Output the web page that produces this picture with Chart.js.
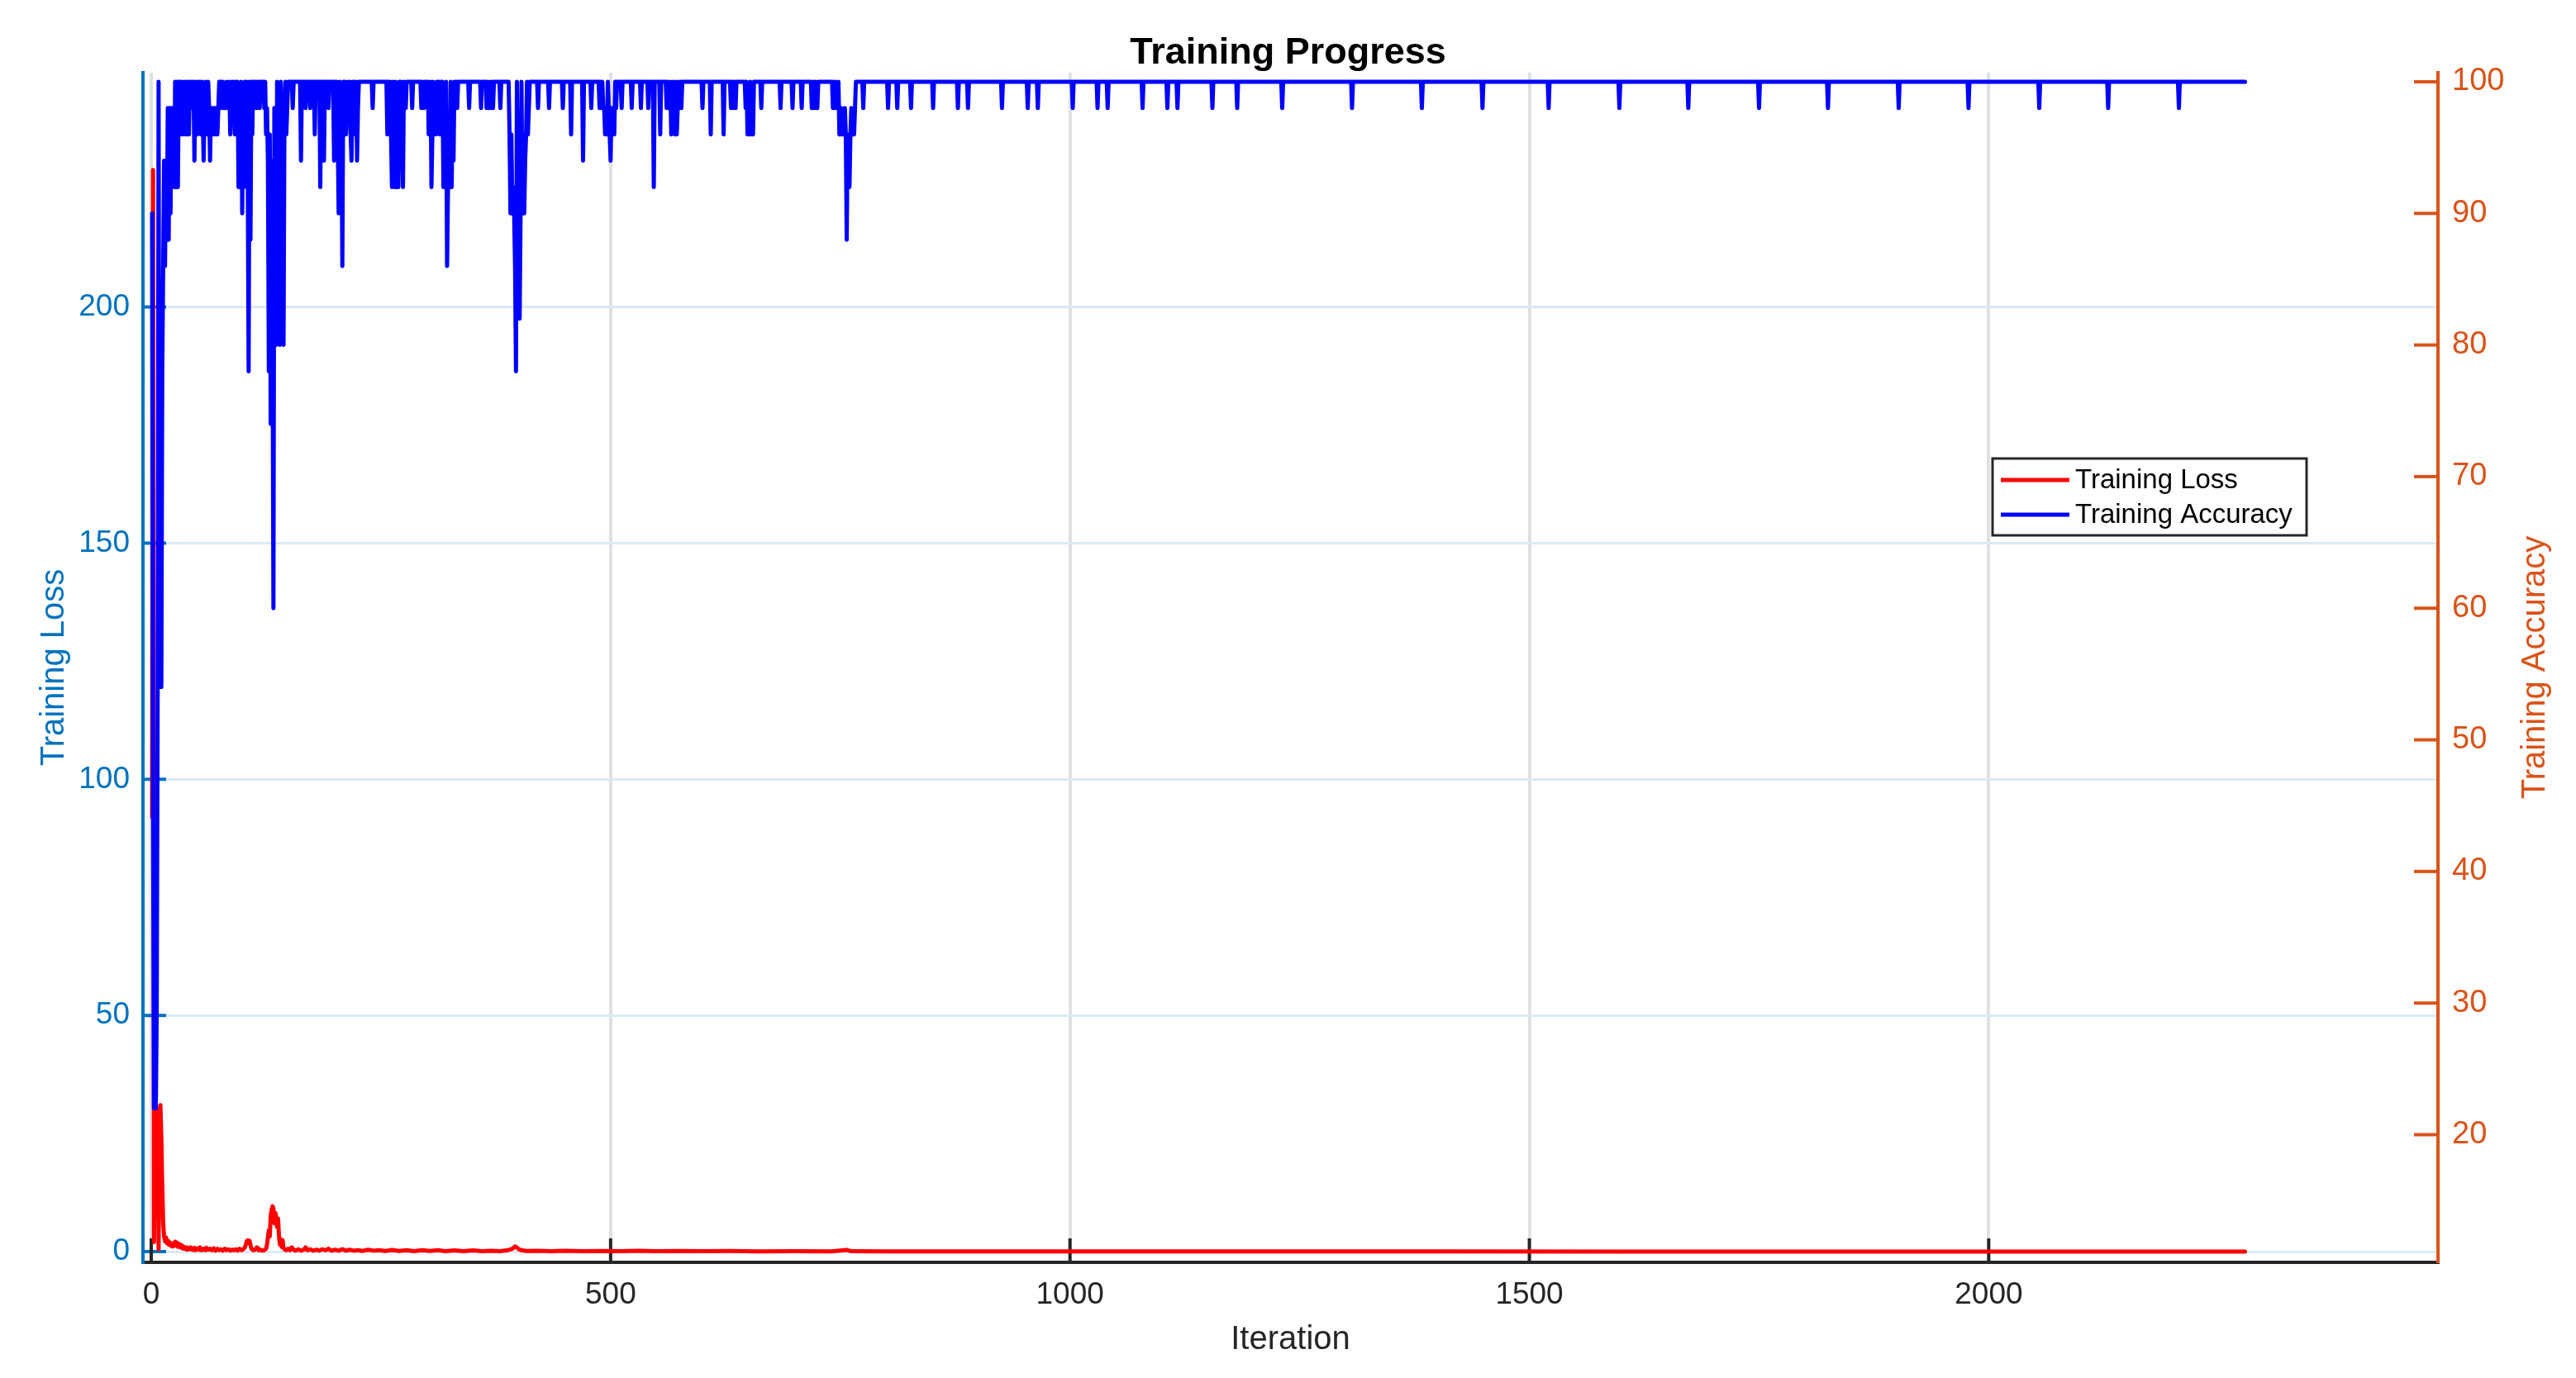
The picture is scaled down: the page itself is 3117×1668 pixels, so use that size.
<!DOCTYPE html>
<html>
<head>
<meta charset="utf-8">
<title>Training Progress</title>
<script src="https://cdn.jsdelivr.net/npm/chart.js@4.4.1/dist/chart.umd.min.js"></script>
<style>
  html, body { margin: 0; padding: 0; background: #fff; }
  #wrap { width: 3117px; height: 1668px; }
</style>
</head>
<body>
<div id="wrap"><canvas id="myChart" width="3117" height="1668"></canvas></div>
<script>
//////////////// DATA /////////////////////////////////

var seriesLabels = ["Training Loss", "Training Accuracy"];
var iterTicks = [0, 500, 1000, 1500, 2000];
var lossTicks = [0, 50, 100, 150, 200];
var accTicks = [20, 30, 40, 50, 60, 70, 80, 90, 100];

// [iteration, loss]
var lossPoints = [
  [1,92],[2,229],[3,2],[4,30],[5,22],[6,30],[7,25],[8,0.5],[9,30],[10,31],
  [11,24],[12,14],[13,6],[14,3.2],[15,2.2],[16,3.0],[17,1.8],[18,2.4],[19,1.5],[20,2.0],
  [21,1.3],[22,1.8],[23,1.1],[24,1.6],[25,1.2],[26,2.1],[27,1.4],[28,1.9],[29,1.0],[30,1.7],
  [31,1.2],[32,0.9],[33,1.4],[34,0.7],[35,1.1],[36,0.6],[38,0.9],[39,0.4],[40,0.8],[42,0.5],
  [43,0.9],[45,0.4],[47,0.8],[48,0.3],[50,0.7],[52,0.4],[53,0.9],[55,0.3],[57,0.6],[59,0.3],
  [60,0.8],[62,0.4],[64,0.6],[66,0.3],[68,0.7],[70,0.2],[72,0.6],[74,0.3],[76,0.5],[78,0.2],
  [80,0.6],[82,0.3],[84,0.5],[86,0.2],[88,0.4],[90,0.3],[92,0.5],[94,0.2],[96,0.6],[98,0.3],
  [100,0.5],[102,0.9],[104,2.2],[105,2.4],[106,1.8],[107,2.3],[108,1.4],[109,0.6],[111,0.3],[113,0.4],
  [115,0.9],[116,0.8],[117,0.3],[119,0.4],[121,0.2],[123,0.3],[125,0.6],[126,1.5],[127,3.0],[128,4.5],
  [129,3.2],[130,7.5],[131,8.8],[132,9.6],[133,9.2],[134,6.0],[135,8.2],[136,7.4],[137,5.2],[138,7.0],
  [139,3.5],[140,1.5],[141,2.6],[142,1.0],[143,2.4],[144,0.8],[145,0.5],[147,0.3],[149,0.6],[151,0.3],
  [153,0.9],[155,0.4],[157,0.2],[160,0.5],[163,0.2],[166,0.4],[168,0.9],[170,0.3],[173,0.5],[176,0.2],
  [180,0.4],[183,0.2],[186,0.5],[190,0.3],[193,0.6],[196,0.2],[200,0.4],[204,0.2],[208,0.5],[212,0.2],
  [216,0.4],[220,0.2],[225,0.3],[230,0.15],[236,0.4],[242,0.2],[248,0.3],[255,0.15],[262,0.35],[270,0.15],
  [278,0.3],[286,0.1],[295,0.3],[303,0.15],[312,0.3],[320,0.1],[330,0.25],[340,0.1],[350,0.25],[360,0.1],
  [370,0.2],[380,0.1],[388,0.3],[393,0.6],[396,1.1],[398,0.9],[400,0.5],[403,0.3],[408,0.15],[420,0.2],
  [435,0.1],[450,0.2],[470,0.1],[490,0.15],[510,0.1],[530,0.2],[550,0.08],[575,0.15],[600,0.08],[630,0.12],
  [660,0.06],[700,0.1],[740,0.06],[757,0.35],[762,0.08],[800,0.05],[900,0.04],[1000,0.05],[1200,0.03],[1400,0.03],
  [1600,0.02],[1800,0.02],[2000,0.02],[2279,0.02]
];

// [iteration, accuracy %]
var accuracyPoints = [
  [1,90],[2,44],[3,22],[4,36],[5,22],[6,30],[7,54],[8,100],[9,54],[10,62],
  [11,54],[12,78],[13,86],[14,94],[15,86],[16,94],[17,88],[18,98],[19,88],[20,98],
  [21,90],[22,98],[23,96],[24,98],[25,92],[26,100],[27,92],[28,100],[29,92],[30,100],
  [31,98],[32,100],[33,96],[34,100],[35,96],[36,98],[37,100],[38,96],[39,100],[40,98],
  [41,96],[42,100],[43,98],[44,100],[45,98],[46,100],[47,94],[48,100],[49,98],[50,96],
  [51,100],[52,98],[53,100],[54,96],[55,100],[56,98],[57,94],[58,98],[59,100],[60,96],
  [61,98],[62,100],[63,98],[64,94],[65,98],[66,96],[67,98],[68,96],[69,98],[70,96],
  [71,98],[72,96],[73,98],[74,100],[75,100],[76,100],[77,98],[78,100],[79,98],[80,98],
  [81,98],[82,100],[83,98],[84,98],[85,100],[86,96],[87,98],[88,100],[89,98],[90,100],
  [91,96],[92,100],[93,98],[94,100],[95,92],[96,98],[97,92],[98,100],[99,90],[100,98],
  [101,92],[102,100],[103,96],[104,100],[105,94],[106,78],[107,100],[108,88],[109,100],[110,96],
  [111,100],[112,100],[113,98],[114,100],[115,98],[116,100],[117,100],[118,98],[119,100],[120,100],
  [121,100],[122,100],[123,98],[124,100],[125,96],[126,98],[127,94],[128,78],[129,96],[130,74],
  [131,94],[132,82],[133,60],[134,98],[135,94],[136,80],[137,100],[138,82],[139,98],[140,80],
  [141,100],[142,94],[143,98],[144,80],[145,98],[146,100],[147,96],[148,98],[149,100],[150,100],
  [153,100],[154,98],[155,100],[162,100],[163,94],[164,100],[167,100],[168,98],[169,100],
  [172,100],[173,98],[174,100],[177,100],[178,96],[179,100],[183,100],[184,92],[185,100],
  [187,100],[188,94],[189,100],[192,100],[193,98],[194,100],
  [198,100],[199,94],[200,100],[201,98],[202,100],[203,96],[204,90],[205,100],[206,96],[207,98],
  [208,86],[209,100],[210,98],[211,100],[212,96],[213,98],[214,100],[215,98],[216,100],[217,96],
  [218,94],[219,100],[220,98],[221,100],[222,96],[223,100],[224,94],[225,98],[226,100],
  [240,100],[241,98],[242,100],
  [256,100],[257,96],[258,100],[259,98],[260,100],[261,96],[262,92],[263,100],[264,96],[265,92],
  [266,100],[267,92],[268,98],[269,92],[270,100],[271,98],[272,100],[273,96],[274,92],[275,100],
  [277,98],[278,100],[283,100],[284,98],[285,100],[293,100],[294,98],[295,100],[297,98],[298,100],
  [301,100],[302,96],[303,98],[304,100],[305,92],[306,96],[307,100],[308,96],[309,98],[310,96],[311,100],
  [313,100],[314,96],[315,100],[316,98],[317,100],[318,92],[319,96],[320,92],[321,100],[322,86],
  [323,92],[324,96],[325,92],[326,100],[327,92],[328,98],[329,94],[330,100],[331,98],[332,100],
  [333,98],[334,100],[345,100],[346,98],[347,100],[358,100],[359,98],[360,100],
  [364,100],[365,98],[366,100],[367,98],[368,98],[369,100],[370,98],[371,100],[372,98],[373,100],
  [379,100],[380,98],[381,100],
  [389,100],[390,96],[391,90],[392,96],[393,90],[394,92],[395,90],[396,86],[397,78],[398,100],
  [399,90],[400,92],[401,82],[402,90],[403,100],[404,90],[405,96],[406,90],[407,94],[408,96],
  [409,100],[410,96],[411,98],[412,100],
  [420,100],[421,98],[422,100],[432,100],[433,98],[434,100],[447,100],[448,98],[449,100],
  [456,100],[457,96],[458,100],[469,100],[470,94],[471,100],[478,100],[479,98],[480,100],
  [487,100],[488,98],[489,100],[490,98],[491,100],[492,98],[493,98],[494,96],[495,98],[496,96],
  [497,100],[498,98],[499,96],[500,94],[501,98],[502,96],[503,98],[504,96],[505,100],[506,98],[507,100],
  [511,100],[512,98],[513,100],[522,100],[523,98],[524,100],[532,100],[533,98],[534,100],
  [540,100],[541,98],[542,100],[546,100],[547,92],[548,100],[553,100],[554,96],[555,100],
  [560,100],[561,98],[562,100],[563,98],[564,98],[565,100],[566,96],[567,98],[568,100],[569,98],
  [570,96],[571,100],[572,96],[573,98],[574,100],[575,98],[576,100],[577,98],[578,100],
  [599,100],[600,98],[601,100],[608,100],[609,96],[610,100],[622,100],[623,96],[624,100],
  [630,100],[631,98],[632,100],[633,100],[634,98],[635,100],[636,98],[637,100],
  [646,100],[647,98],[648,100],[649,96],[650,98],[651,96],[652,100],[653,96],[654,98],[655,96],[656,100],
  [663,100],[664,98],[665,100],[684,100],[685,98],[686,100],[697,100],[698,98],[699,100],
  [707,100],[708,98],[709,100],
  [718,100],[719,98],[720,98],[721,100],[722,98],[723,100],[724,98],[725,98],[726,100],
  [741,100],[742,98],[743,100],[744,98],[745,100],[746,98],[747,98],[748,100],[749,96],[750,96],
  [751,98],[752,96],[753,96],[754,96],[755,98],[756,96],[757,88],[758,96],[759,94],[760,92],
  [761,96],[762,98],[763,96],[764,96],[765,96],[766,98],[767,100],
  [774,100],[775,98],[776,100],[801,100],[802,98],[803,100],[811,100],[812,98],[813,100],
  [826,100],[827,98],[828,100],[850,100],[851,98],[852,100],[877,100],[878,98],[879,100],
  [888,100],[889,98],[890,100],[925,100],[926,98],[927,100],[953,100],[954,98],[955,100],
  [964,100],[965,98],[966,100],[1002,100],[1003,98],[1004,100],[1029,100],[1030,98],[1031,100],
  [1040,100],[1041,98],[1042,100],[1078,100],[1079,98],[1080,100],[1105,100],[1106,98],[1107,100],
  [1116,100],[1117,98],[1118,100],[1154,100],[1155,98],[1156,100],[1181,100],[1182,98],[1183,100],
  [1230,100],[1231,98],[1232,100],[1306,100],[1307,98],[1308,100],[1382,100],[1383,98],[1384,100],
  [1448,100],[1449,98],[1450,100],[1520,100],[1521,98],[1522,100],[1597,100],[1598,98],[1599,100],
  [1672,100],[1673,98],[1674,100],[1749,100],[1750,98],[1751,100],[1824,100],[1825,98],[1826,100],
  [1901,100],[1902,98],[1903,100],[1977,100],[1978,98],[1979,100],[2054,100],[2055,98],[2056,100],
  [2129,100],[2130,98],[2131,100],[2206,100],[2207,98],[2208,100],[2279,100]
];

//////////////// STYLE /////////////////////////////////

var FONT = "'Liberation Sans', Arial, Helvetica, sans-serif";
var LEFT_COL = "rgb(0,114,189)";
var RIGHT_COL = "rgb(217,83,25)";
var DARK = "rgb(38,38,38)";

Chart.defaults.font.family = FONT;

function toXY(pairs) {
  return pairs.map(function (p) { return { x: p[0], y: p[1] }; });
}

function setTicks(values) {
  return function (scale) {
    scale.ticks = values.map(function (v) { return { value: v }; });
  };
}

function plainLabel(v) { return String(v); }

// matlab style: tick marks pointing inward, right label read bottom-up, legend inside the axes
var matlabBits = {
  id: "matlabBits",
  beforeDatasetsDraw: function (chart) {
    var ctx = chart.ctx, a = chart.chartArea;
    var xS = chart.scales.x, yS = chart.scales.y, y2S = chart.scales.y2;
    ctx.save();
    ctx.lineWidth = 4;
    ctx.strokeStyle = LEFT_COL;
    lossTicks.forEach(function (v) {
      var p = yS.getPixelForValue(v);
      ctx.beginPath(); ctx.moveTo(a.left, p); ctx.lineTo(a.left + 28, p); ctx.stroke();
    });
    ctx.strokeStyle = RIGHT_COL;
    accTicks.forEach(function (v) {
      var p = y2S.getPixelForValue(v);
      ctx.beginPath(); ctx.moveTo(a.right, p); ctx.lineTo(a.right - 29, p); ctx.stroke();
    });
    ctx.strokeStyle = DARK;
    iterTicks.forEach(function (v) {
      var p = xS.getPixelForValue(v);
      ctx.beginPath(); ctx.moveTo(p, a.bottom); ctx.lineTo(p, a.bottom - 29); ctx.stroke();
    });
    ctx.restore();
  },
  afterDraw: function (chart) {
    var ctx = chart.ctx, a = chart.chartArea;
    var y2S = chart.scales.y2;
    ctx.save();

    // right axis title
    ctx.translate(3068, (a.top + a.bottom) / 2);
    ctx.rotate(-Math.PI / 2);
    ctx.fillStyle = RIGHT_COL;
    ctx.font = "40px " + FONT;
    ctx.textAlign = "center";
    ctx.textBaseline = "middle";
    ctx.fillText(y2S.options.title.text, 0, 0);
    ctx.restore();

    // legend box
    var bx = 2411, by = 555, bw = 380, bh = 93;
    ctx.save();
    ctx.fillStyle = "#fff";
    ctx.fillRect(bx, by, bw, bh);
    ctx.lineWidth = 3;
    ctx.strokeStyle = DARK;
    ctx.strokeRect(bx, by, bw, bh);
    ctx.font = "33px " + FONT;
    ctx.textBaseline = "middle";
    ctx.textAlign = "left";
    chart.data.datasets.forEach(function (ds, i) {
      var ly = by + 26 + i * 42;
      ctx.strokeStyle = ds.borderColor;
      ctx.lineWidth = 5;
      ctx.beginPath(); ctx.moveTo(bx + 10, ly); ctx.lineTo(bx + 93, ly); ctx.stroke();
      ctx.fillStyle = "#000";
      ctx.fillText(ds.label, bx + 100, ly + 1);
    });
    ctx.restore();
  }
};

//////////////// CHART /////////////////////////////////

var ctx = document.getElementById("myChart").getContext("2d");
var chart = new Chart(ctx, {
  type: "line",
  data: {
    datasets: [{
      label: seriesLabels[0],
      data: toXY(lossPoints),
      yAxisID: "y",
      borderColor: "rgb(255,0,0)",
      borderWidth: 5,
      pointRadius: 0,
      tension: 0,
      borderJoinStyle: "round",
      borderCapStyle: "round",
      order: 2
    }, {
      label: seriesLabels[1],
      data: toXY(accuracyPoints),
      yAxisID: "y2",
      borderColor: "rgb(0,0,255)",
      borderWidth: 5,
      pointRadius: 0,
      tension: 0,
      borderJoinStyle: "round",
      borderCapStyle: "round",
      order: 1
    }]
  },
  options: {
    responsive: false,
    maintainAspectRatio: false,
    devicePixelRatio: 1,
    animation: false,
    parsing: false,
    normalized: true,
    layout: { padding: 0 },
    plugins: {
      legend: { display: false },
      tooltip: { enabled: false },
      title: {
        display: true,
        text: "Training Progress",
        color: "#000",
        font: { size: 45, weight: "bold", lineHeight: 1 },
        padding: { top: 42, bottom: 1 }
      }
    },
    scales: {
      x: {
        type: "linear",
        min: -9,
        max: 2489,
        afterBuildTicks: setTicks(iterTicks),
        afterFit: function (s) { s.height = 140; },
        grid: { color: "rgb(222,224,228)", lineWidth: 4, drawTicks: false },
        border: { color: DARK, width: 4 },
        ticks: { color: DARK, font: { size: 37 }, padding: 18, maxRotation: 0, autoSkip: false, callback: plainLabel },
        title: {
          display: true, text: "Iteration", color: DARK,
          font: { size: 40, lineHeight: 1.2 }, padding: { top: 0, bottom: 22 }
        }
      },
      y: {
        type: "linear",
        position: "left",
        min: -2.27,
        max: 249.6,
        afterBuildTicks: setTicks(lossTicks),
        afterFit: function (s) { s.width = 173; },
        grid: { color: "rgb(217,234,245)", lineWidth: 3, drawTicks: false },
        border: { color: LEFT_COL, width: 4 },
        ticks: { color: LEFT_COL, font: { size: 37 }, padding: 16, autoSkip: false, callback: plainLabel },
        title: {
          display: true, text: "Training Loss", color: LEFT_COL,
          font: { size: 40, lineHeight: 1.2 }, padding: { top: 42, bottom: 0 }
        }
      },
      y2: {
        type: "linear",
        position: "right",
        min: 10.3,
        max: 100.69,
        afterBuildTicks: setTicks(accTicks),
        afterFit: function (s) { s.width = 167; },
        grid: { color: "rgba(0,0,0,0)", drawTicks: false },
        border: { color: RIGHT_COL, width: 4 },
        ticks: { color: RIGHT_COL, font: { size: 38 }, padding: 17, autoSkip: false, callback: plainLabel },
        title: { display: false, text: "Training Accuracy" }
      }
    }
  },
  plugins: [matlabBits]
});
</script>
</body>
</html>
